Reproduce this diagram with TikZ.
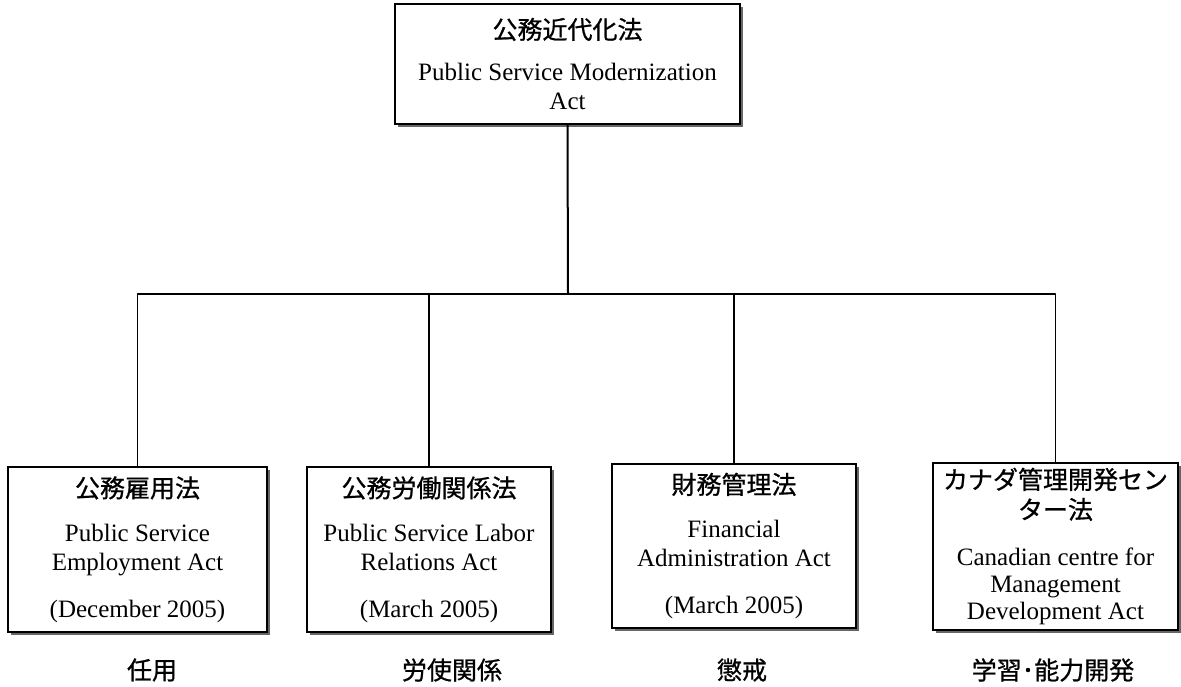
\documentclass[tikz,border=0pt]{standalone}
\usepackage{fontspec}
\setmainfont{Liberation Serif}
\newfontfamily\jpfont{Noto Sans CJK JP}[FakeBold=0.8]
\usepackage{tikz}
\usetikzlibrary{calc,positioning,shadows}

\tikzset{
  actbox/.style={draw=black,line width=1.5pt,fill=white,align=center,inner sep=0pt,
    font=\fontsize{25}{29}\selectfont,
    drop shadow={shadow xshift=3pt,shadow yshift=-3pt,fill=black!60,opacity=1}},
  arealabel/.style={font=\jpfont\fontsize{25}{30}\selectfont,inner sep=0pt},
  link/.style={line width=1.5pt,line join=round}
}

\begin{document}
\begin{tikzpicture}[x=1pt,y=-1pt]
\path[use as bounding box,fill=white] (0,0) rectangle (1181,686);

% parent act
\node[actbox,minimum width=345pt,minimum height=120pt] (modern) at (567.5,64)
  {\jpfont 公務近代化法\\[13pt] Public Service Modernization\\ Act};

% the four acts
\node[actbox,minimum width=259pt,minimum height=165pt] (employ) at (137.5,549.5)
  {\jpfont 公務雇用法\\[15pt] Public Service\\ Employment Act\\[18pt] (December 2005)};
\node[actbox,minimum width=244pt,minimum height=165pt] (labor) at (429,549.5)
  {\jpfont 公務労働関係法\\[15pt] Public Service Labor\\ Relations Act\\[18pt] (March 2005)};
\node[actbox,minimum width=244pt,minimum height=164pt] (finance) at (734,546)
  {\jpfont 財務管理法\\[15pt] Financial\\ Administration Act\\[18pt] (March 2005)};
\node[actbox,minimum width=245pt,minimum height=167pt] (centre) at (1055.5,546.5)
  {\jpfont カナダ管理開発セン\\[1pt] \jpfont ター法\\[18pt] Canadian centre for\\[-2pt] Management\\[-2pt] Development Act};

% areas
\node[arealabel] (lblemploy) at (152,670) {任用};
\node[arealabel] (lbllabor) at (452,670) {労使関係};
\node[arealabel] (lblfinance) at (742,670) {懲戒};
\node[arealabel] (lblcentre) at (1053,670) {学習･能力開発};

% tree
\coordinate (bus) at (568,294);
\draw[link,line width=2pt] (modern.south) -- (bus);
\draw[link] (employ.north) |- (bus) -| (centre.north);
\draw[link] (labor.north) -- (labor.north |- bus);
\draw[link] (finance.north) -- (finance.north |- bus);
\end{tikzpicture}
\end{document}
